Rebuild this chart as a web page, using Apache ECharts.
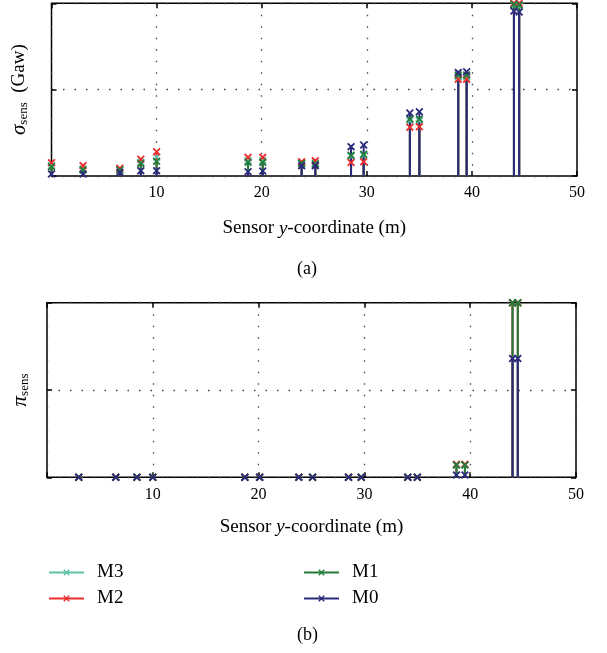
<!DOCTYPE html>
<html>
<head>
<meta charset="utf-8">
<script src="https://cdn.jsdelivr.net/npm/echarts@6/dist/echarts.min.js"></script>
<style>
  html, body { margin: 0; padding: 0; background: #fff; }
</style>
</head>
<body>
<div id="myChart" style="width: 607px; height: 653px;"></div>
<script>
// sensor y-coordinates (m)
const sensorY = [0, 3, 6.5, 8.5, 10, 18.7, 20.1, 23.8, 25.1, 28.5, 29.7, 34.1, 35.0, 38.7, 39.5, 44.0, 44.5];
const xTicks = [10, 20, 30, 40, 50];

// (a) sigma_sens, relative scale (axis has no labels)
const sigmaM3 = [0.06, 0.04, 0.04, 0.08, 0.11, 0.09, 0.09, 0.075, 0.075, 0.115, 0.12, 0.32, 0.32, 0.575, 0.575, 0.99, 0.985];
const sigmaM2 = [0.077, 0.06, 0.045, 0.097, 0.14, 0.108, 0.108, 0.083, 0.089, 0.078, 0.083, 0.282, 0.285, 0.56, 0.56, 1.0, 1.0];
const sigmaM1 = [0.054, 0.035, 0.035, 0.073, 0.085, 0.079, 0.079, 0.073, 0.07, 0.12, 0.126, 0.33, 0.33, 0.585, 0.585, 0.995, 0.99];
const sigmaM0 = [0.012, 0.012, 0.021, 0.031, 0.031, 0.025, 0.029, 0.06, 0.06, 0.17, 0.18, 0.365, 0.372, 0.6, 0.604, 0.955, 0.95];

// (b) pi_sens, no value at the sensor at 0 m
const piM3 = [null, 0, 0, 0, 0, 0, 0, 0, 0, 0, 0, 0, 0, 0.07, 0.07, 1.0, 1.0];
const piM2 = [null, 0, 0, 0, 0, 0, 0, 0, 0, 0, 0, 0, 0, 0.075, 0.075, 1.0, 1.0];
const piM1 = [null, 0, 0, 0, 0, 0, 0, 0, 0, 0, 0, 0, 0, 0.07, 0.07, 1.0, 1.0];
const piM0 = [null, 0, 0, 0, 0, 0, 0, 0, 0, 0, 0, 0, 0, 0.013, 0.013, 0.68, 0.68];

const names = ['M3', 'M2', 'M1', 'M0'];
const colors = ['#5fc2a6', '#ee2c2c', '#237a3b', '#2b2a7a'];

const FONT = 'Liberation Serif';
const xMark = 'path://M0,1.6L1.6,0L5,3.4L8.4,0L10,1.6L6.6,5L10,8.4L8.4,10L5,6.6L1.6,10L0,8.4L3.4,5Z';

// stem data: base point (no marker), top point, break
function stems(vals) {
  const out = [];
  vals.forEach((v, i) => {
    if (v == null) return;
    out.push({ value: [sensorY[i], 0], symbol: 'none' });
    out.push([sensorY[i], v]);
    out.push([sensorY[i], '-']);
  });
  return out;
}

function stemSeries(name, color, vals, gi) {
  return {
    name: name,
    type: 'line',
    xAxisIndex: gi * 2,
    yAxisIndex: gi * 2,
    data: stems(vals),
    symbol: xMark,
    symbolSize: 8,
    showAllSymbol: true,
    connectNulls: false,
    clip: false,
    color: color,
    lineStyle: { color: color, width: 2 },
    itemStyle: { color: color },
    emphasis: { disabled: true },
    silent: true
  };
}

const dotted = { show: true, lineStyle: { color: '#444', width: 1.3, type: [1.5, 10] } };
const tick = { inside: true, length: 5, lineStyle: { color: '#000', width: 1.5 } };
const noLine = { show: false, onZero: false };

function xAxes(gi) {
  return [{
    type: 'value', gridIndex: gi, min: 0, max: 50, interval: 10,
    axisLine: noLine,
    axisTick: tick,
    axisLabel: {
      margin: 9, color: '#000', fontFamily: FONT, fontSize: 16,
      formatter: v => (xTicks.indexOf(v) >= 0 ? String(v) : '')
    },
    splitLine: dotted,
    name: '{a|Sensor }{i|y}{a|-coordinate (m)}',
    nameLocation: 'middle',
    nameGap: gi === 0 ? 43 : 40,
    nameTextStyle: {
      rich: {
        a: { fontFamily: FONT, fontSize: 19, color: '#000' },
        i: { fontFamily: FONT, fontSize: 19, color: '#000', fontStyle: 'italic' }
      }
    }
  }, {
    type: 'value', gridIndex: gi, position: 'top', min: 0, max: 50, interval: 10,
    axisLine: noLine,
    axisTick: tick,
    axisLabel: { show: false },
    splitLine: { show: false }
  }];
}

function yAxes(gi, name, rich) {
  return [{
    type: 'value', gridIndex: gi, min: 0, max: 1, interval: 0.5,
    axisLine: noLine,
    axisTick: tick,
    axisLabel: { show: false },
    splitLine: dotted,
    name: name,
    nameLocation: 'middle',
    nameRotate: 90,
    nameGap: gi === 0 ? 21 : 16,
    nameTextStyle: { rich: rich }
  }, {
    type: 'value', gridIndex: gi, position: 'right', min: 0, max: 1, interval: 0.5,
    axisLine: noLine,
    axisTick: tick,
    axisLabel: { show: false },
    splitLine: { show: false }
  }];
}

const subRich = {
  g: { fontFamily: FONT, fontSize: 21, fontStyle: 'italic', color: '#000' },
  s: { fontFamily: FONT, fontSize: 13, color: '#000', padding: [9, 0, 0, 0] },
  a: { fontFamily: FONT, fontSize: 19, color: '#000' }
};

let myChart = echarts.init(document.getElementById('myChart'));
myChart.setOption({
  animation: false,
  backgroundColor: '#fff',
  grid: [
    { left: 51.5, right: 30, top: 3.3, height: 172.7, show: true, borderColor: '#000', borderWidth: 1.5, backgroundColor: 'transparent' },
    { left: 47, right: 31, top: 302.7, height: 174.6, show: true, borderColor: '#000', borderWidth: 1.5, backgroundColor: 'transparent' }
  ],
  xAxis: xAxes(0).concat(xAxes(1)),
  yAxis: yAxes(0, '{g|σ}{s|sens}{a|  (Gaw)}', subRich).concat(yAxes(1, '{g|π}{s|sens}', subRich)),
  graphic: [
    { type: 'text', left: 297, top: 260, style: { text: '(a)', font: '18px "Liberation Serif"', fill: '#000' } },
    { type: 'text', left: 297, top: 626, style: { text: '(b)', font: '18px "Liberation Serif"', fill: '#000' } }
  ],
  legend: [
    {
      left: 48, top: 563, orient: 'vertical', padding: 0, itemWidth: 35, itemHeight: 8, itemGap: 7,
      data: ['M3', 'M2'],
      textStyle: { fontFamily: FONT, fontSize: 19, color: '#000', padding: [0, 0, 0, 8] },
      selectedMode: false
    },
    {
      left: 303, top: 563, orient: 'vertical', padding: 0, itemWidth: 35, itemHeight: 8, itemGap: 7,
      data: ['M1', 'M0'],
      textStyle: { fontFamily: FONT, fontSize: 19, color: '#000', padding: [0, 0, 0, 8] },
      selectedMode: false
    }
  ],
  series: [
    stemSeries(names[0], colors[0], sigmaM3, 0),
    stemSeries(names[1], colors[1], sigmaM2, 0),
    stemSeries(names[2], colors[2], sigmaM1, 0),
    stemSeries(names[3], colors[3], sigmaM0, 0),
    stemSeries(names[0], colors[0], piM3, 1),
    stemSeries(names[1], colors[1], piM2, 1),
    stemSeries(names[2], colors[2], piM1, 1),
    stemSeries(names[3], colors[3], piM0, 1)
  ]
});
</script>
</body>
</html>
